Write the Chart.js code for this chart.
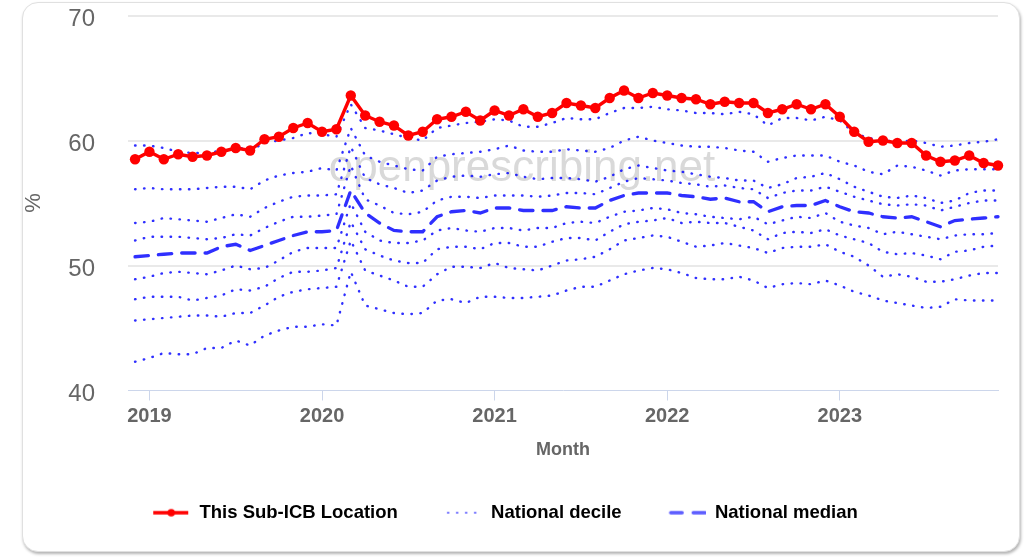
<!DOCTYPE html>
<html><head><meta charset="utf-8">
<script src="https://cdn.jsdelivr.net/npm/chart.js@4.4.1/dist/chart.umd.min.js"></script>
<style>
html,body{margin:0;padding:0;background:#fff;}
body{width:1033px;height:557px;position:relative;overflow:hidden;font-family:"Liberation Sans",Arial,sans-serif;}
#frame{position:absolute;left:22px;top:2px;width:996px;height:548px;border:1px solid #e0e0e0;border-radius:16px;box-shadow:1px 2px 3px rgba(0,0,0,0.3);background:#fff;}
#wrap{position:absolute;left:0;top:0;width:1033px;height:557px;}
</style></head><body>
<div id="frame"></div>
<div id="wrap"><canvas id="c" width="1033" height="557"></canvas></div>
<script>
const months = ['2018-12',
 '2019-01','2019-02','2019-03','2019-04','2019-05','2019-06','2019-07','2019-08','2019-09','2019-10','2019-11','2019-12',
 '2020-01','2020-02','2020-03','2020-04','2020-05','2020-06','2020-07','2020-08','2020-09','2020-10','2020-11','2020-12',
 '2021-01','2021-02','2021-03','2021-04','2021-05','2021-06','2021-07','2021-08','2021-09','2021-10','2021-11','2021-12',
 '2022-01','2022-02','2022-03','2022-04','2022-05','2022-06','2022-07','2022-08','2022-09','2022-10','2022-11','2022-12',
 '2023-01','2023-02','2023-03','2023-04','2023-05','2023-06','2023-07','2023-08','2023-09','2023-10','2023-11','2023-12'];
const yearLabels = ['2019','2020','2021','2022','2023'];
const yTicks = [40, 50, 60, 70];

const subIcb = [58.5,59.1,58.5,58.9,58.7,58.8,59.1,59.4,59.2,60.1,60.3,61.0,61.4,60.7,60.9,
 63.6,
 62.0,61.5,61.2,60.4,60.7,61.7,61.9,62.3,61.6,62.4,62.0,62.5,61.9,62.2,63.0,
 62.8,62.6,63.4,64.0,63.4,63.8,63.6,63.4,63.3,62.9,63.1,63.0,63.0,62.2,62.5,
 62.9,62.5,62.9,61.9,60.7,59.9,60.0,59.8,59.8,58.8,58.3,58.4,58.8,58.2,58.0];
const p90 = [59.6,59.6,59.4,59.1,59.0,59.0,59.2,59.5,59.2,59.8,60.0,60.2,60.6,60.5,60.3,
 62.9,
 61.0,60.8,60.5,60.2,60.0,61.0,61.2,61.4,61.5,61.7,61.6,61.1,61.1,61.4,61.8,
 61.7,61.7,62.2,62.6,62.6,62.7,62.5,62.4,62.2,62.2,62.1,62.3,62.1,61.2,61.8,
 61.8,61.6,61.9,61.6,60.6,60.2,60.0,59.9,60.0,59.8,59.5,59.6,59.8,59.9,60.1];
const p80 = [56.1,56.2,56.1,56.1,56.1,56.2,56.3,56.3,56.1,56.8,57.2,57.4,57.5,57.8,57.6,
 61.0,
 58.8,58.3,58.0,57.7,57.6,58.7,58.9,59.0,59.1,59.3,59.6,59.2,59.1,59.1,59.3,
 59.2,59.1,59.4,60.0,60.3,60.0,59.8,59.6,59.5,59.5,59.4,59.2,59.1,58.3,58.6,
 58.8,58.8,58.8,58.3,58.0,57.5,57.3,58.0,57.9,57.6,57.2,57.6,57.7,57.7,57.7];
const p70 = [53.4,53.5,53.8,53.7,53.6,53.5,53.8,54.1,53.9,54.6,55.1,55.5,55.6,55.6,55.7,
 59.5,
 57.0,56.5,56.2,55.8,56.0,56.8,57.1,57.2,57.1,57.3,57.4,57.1,56.9,57.0,57.0,
 56.9,56.7,57.1,57.7,58.0,57.8,57.6,57.5,57.3,57.1,57.0,56.8,56.8,56.2,56.5,
 57.0,57.1,57.4,56.9,56.3,55.9,55.5,55.4,55.6,55.4,55.0,55.2,55.8,56.0,56.0];
const p60 = [52.0,52.3,52.3,52.3,52.2,52.1,52.2,52.5,52.4,53.0,53.5,53.9,53.9,54.0,54.1,
 58.0,
 55.3,54.8,54.2,54.1,54.3,55.2,55.5,55.5,55.4,55.6,55.6,55.6,55.5,55.6,55.8,
 55.8,55.7,56.2,56.7,57.0,56.9,56.8,56.6,56.5,56.3,56.4,56.2,56.1,55.4,55.8,
 56.0,56.0,56.3,55.9,55.5,55.2,54.9,54.8,54.9,54.8,54.4,54.7,55.0,55.2,55.2];
const median = [50.7,50.8,50.9,51.0,51.0,51.0,51.5,51.7,51.2,51.6,52.0,52.4,52.7,52.7,52.8,
 56.0,
 54.2,53.4,52.8,52.7,52.7,53.9,54.3,54.4,54.2,54.6,54.6,54.4,54.4,54.4,54.7,
 54.6,54.6,55.2,55.6,55.8,55.8,55.8,55.6,55.5,55.3,55.4,55.1,55.1,54.3,54.7,
 54.8,54.8,55.2,54.7,54.3,54.2,53.9,53.8,53.9,53.5,53.1,53.6,53.7,53.8,53.9];
const p40 = [48.9,49.1,49.4,49.5,49.4,49.3,49.6,50.0,49.7,49.8,50.4,51.1,51.4,51.4,51.4,
 55.0,
 52.7,52.0,51.8,51.8,52.0,52.8,53.0,52.8,52.7,53.0,53.0,52.8,53.0,53.0,53.4,
 53.5,53.4,53.9,54.3,54.4,54.6,54.5,54.2,54.1,53.9,53.8,53.7,53.9,53.3,53.6,
 53.9,53.8,54.2,53.5,53.2,53.0,52.5,52.7,52.5,52.3,52.1,52.4,52.5,52.5,52.6];
const p30 = [47.3,47.5,47.5,47.5,47.2,47.4,47.6,48.1,48.0,48.3,49.0,49.5,49.5,49.6,49.8,
 53.5,
 51.3,50.8,50.4,50.2,50.2,51.3,51.5,51.5,51.3,51.8,51.8,51.5,51.5,51.9,52.2,
 52.2,52.0,52.7,53.3,53.5,53.6,53.8,53.4,53.5,53.4,53.4,53.1,52.8,52.1,52.6,
 52.7,52.6,52.9,52.4,52.1,51.8,51.1,50.9,51.0,50.8,50.5,51.1,51.2,51.5,51.6];
const p20 = [45.6,45.7,45.8,45.9,46.0,46.0,45.9,46.2,46.2,46.8,47.5,47.9,48.1,48.2,48.3,
 52.0,
 49.6,49.2,48.8,48.3,48.3,49.3,49.9,49.9,49.8,50.2,49.8,49.7,49.6,50.0,50.4,
 50.5,50.7,51.3,52.0,52.2,52.4,52.3,51.9,51.5,51.6,51.8,51.6,51.4,51.0,51.4,
 51.5,51.5,51.7,51.1,50.7,50.0,49.1,49.3,49.1,48.7,48.7,48.9,49.2,49.4,49.4];
const p10 = [42.3,42.6,43.0,42.9,42.9,43.4,43.4,44.0,43.6,44.4,44.8,45.1,45.1,45.3,45.2,
 49.5,
 46.8,46.5,46.2,46.1,46.2,47.2,47.3,47.0,47.5,47.5,47.4,47.4,47.5,47.6,48.0,
 48.3,48.3,48.8,49.3,49.6,49.8,49.7,49.4,49.0,48.9,48.9,49.1,48.8,48.2,48.5,
 48.6,48.5,48.8,48.4,47.9,47.6,47.2,47.0,46.8,46.6,46.7,47.3,47.2,47.2,47.2];
const deciles = [p10, p20, p30, p40, p60, p70, p80, p90];

const FONT = '"Liberation Sans", Arial, sans-serif';
Chart.defaults.font.family = FONT;

const toPoints = arr => arr.map((v, i) => ({x: i, y: v}));

function makeSymbol(draw) {
  const c = document.createElement('canvas');
  c.width = 38; c.height = 12;
  const g = c.getContext('2d');
  draw(g);
  return c;
}
const symLocation = makeSymbol(g => {
  g.strokeStyle = '#ff0000'; g.lineWidth = 3.3;
  g.beginPath(); g.moveTo(1, 6); g.lineTo(36, 6); g.stroke();
  g.fillStyle = '#ff0000'; g.beginPath(); g.arc(19, 6, 3.8, 0, Math.PI * 2); g.fill();
});
const symDecile = makeSymbol(g => {
  g.strokeStyle = 'rgba(90,90,255,0.85)'; g.lineWidth = 2.2; g.lineCap = 'round';
  g.setLineDash([0.6, 8.4]);
  g.beginPath(); g.moveTo(4, 6); g.lineTo(36, 6); g.stroke();
});
const symMedian = makeSymbol(g => {
  g.strokeStyle = '#5c5cff'; g.lineWidth = 3.3; g.lineCap = 'round';
  g.setLineDash([11.5, 11]);
  g.beginPath(); g.moveTo(3, 6); g.lineTo(37, 6); g.stroke();
});

const legendHeightPlugin = {
  id: 'legendHeight',
  beforeInit(chart) {
    const lg = chart.legend;
    if (lg && !lg._patched) {
      const fit = lg.fit.bind(lg);
      lg.fit = function () { fit(); this.height = 99.5; };
      lg._patched = true;
    }
  }
};

const watermarkPlugin = {
  id: 'watermark',
  beforeDatasetsDraw(chart) {
    const ctx = chart.ctx;
    ctx.save();
    ctx.font = '44px ' + FONT;
    ctx.fillStyle = 'rgba(150,150,150,0.36)';
    ctx.textAlign = 'center';
    ctx.textBaseline = 'alphabetic';
    ctx.fillText('openprescribing.net', 522, 181);
    ctx.restore();
  }
};

const datasets = [
  {
    label: 'This Sub-ICB Location', data: toPoints(subIcb),
    borderColor: '#ff0000', backgroundColor: '#ff0000', borderWidth: 3.4,
    pointRadius: 5.2, pointHoverRadius: 5.2, pointBackgroundColor: '#ff0000', pointBorderWidth: 0,
    tension: 0, clip: false
  },
  {
    label: 'National median', data: toPoints(median),
    borderColor: 'rgba(10,10,255,0.85)', borderWidth: 3.3, borderDash: [13.4, 10], borderCapStyle: 'round',
    pointRadius: 0, tension: 0, clip: false
  }
].concat(deciles.map(arr => ({
  label: 'National decile', data: toPoints(arr),
  borderColor: 'rgba(10,10,255,0.85)', borderWidth: 2.4, borderDash: [0.5, 8.5], borderCapStyle: 'round',
  pointRadius: 0, tension: 0, clip: false
})));

new Chart(document.getElementById('c'), {
  type: 'line',
  data: { datasets },
  plugins: [legendHeightPlugin, watermarkPlugin],
  options: {
    responsive: false,
    animation: false,
    events: [],
    layout: { padding: { left: 12, right: 35, top: 15.5, bottom: 0 } },
    plugins: {
      tooltip: { enabled: false },
      legend: {
        position: 'bottom',
        labels: {
          usePointStyle: true, pointStyleWidth: 38, padding: 46,
          font: { size: 18.5, weight: 'bold', family: FONT }, color: '#333333',
          generateLabels: () => [
            { text: 'This Sub-ICB Location', pointStyle: symLocation, fillStyle: '#ff0000', strokeStyle: '#ff0000', lineWidth: 0, datasetIndex: 0, hidden: false },
            { text: 'National decile', pointStyle: symDecile, fillStyle: '#5a5aff', strokeStyle: '#5a5aff', lineWidth: 0, datasetIndex: 2, hidden: false },
            { text: 'National median', pointStyle: symMedian, fillStyle: '#5a5aff', strokeStyle: '#5a5aff', lineWidth: 0, datasetIndex: 1, hidden: false }
          ]
        }
      }
    },
    scales: {
      x: {
        type: 'linear', min: -0.49, max: 60,
        afterBuildTicks: s => { s.ticks = yearLabels.map(y => ({ value: months.indexOf(y + '-01') })); },
        afterFit: s => { s.height = 67; },
        ticks: {
          autoSkip: false, maxRotation: 0, padding: 4, color: '#666666',
          font: { size: 20, weight: 'bold', family: FONT },
          callback: v => (months[v] ? months[v].slice(0, 4) : '')
        },
        grid: { drawOnChartArea: false, drawTicks: true, tickLength: 10, color: '#ccd6eb', tickColor: '#ccd6eb', lineWidth: 1 },
        border: { display: true, color: '#ccd6eb', width: 1 },
        title: { display: true, text: 'Month', color: '#666666', font: { size: 18, weight: 'bold', lineHeight: 0.6, family: FONT }, padding: { top: 0, bottom: 2 } }
      },
      y: {
        min: 40, max: 70,
        afterBuildTicks: s => { s.ticks = yTicks.map(v => ({ value: v })); },
        afterFit: s => { s.width = 116; },
        ticks: { color: '#666666', font: { size: 24, family: FONT }, padding: 0, labelOffset: 4 },
        grid: {
          drawTicks: true, tickLength: 33, tickColor: 'rgba(0,0,0,0)', lineWidth: 2,
          color: c => (c.tick && c.tick.value === 40 ? 'rgba(0,0,0,0)' : '#e9e9e9')
        },
        border: { display: false },
        title: { display: true, text: '%', color: '#666666', font: { size: 22, family: FONT }, padding: { top: 9, bottom: 0 } }
      }
    }
  }
});
</script>
</body></html>
